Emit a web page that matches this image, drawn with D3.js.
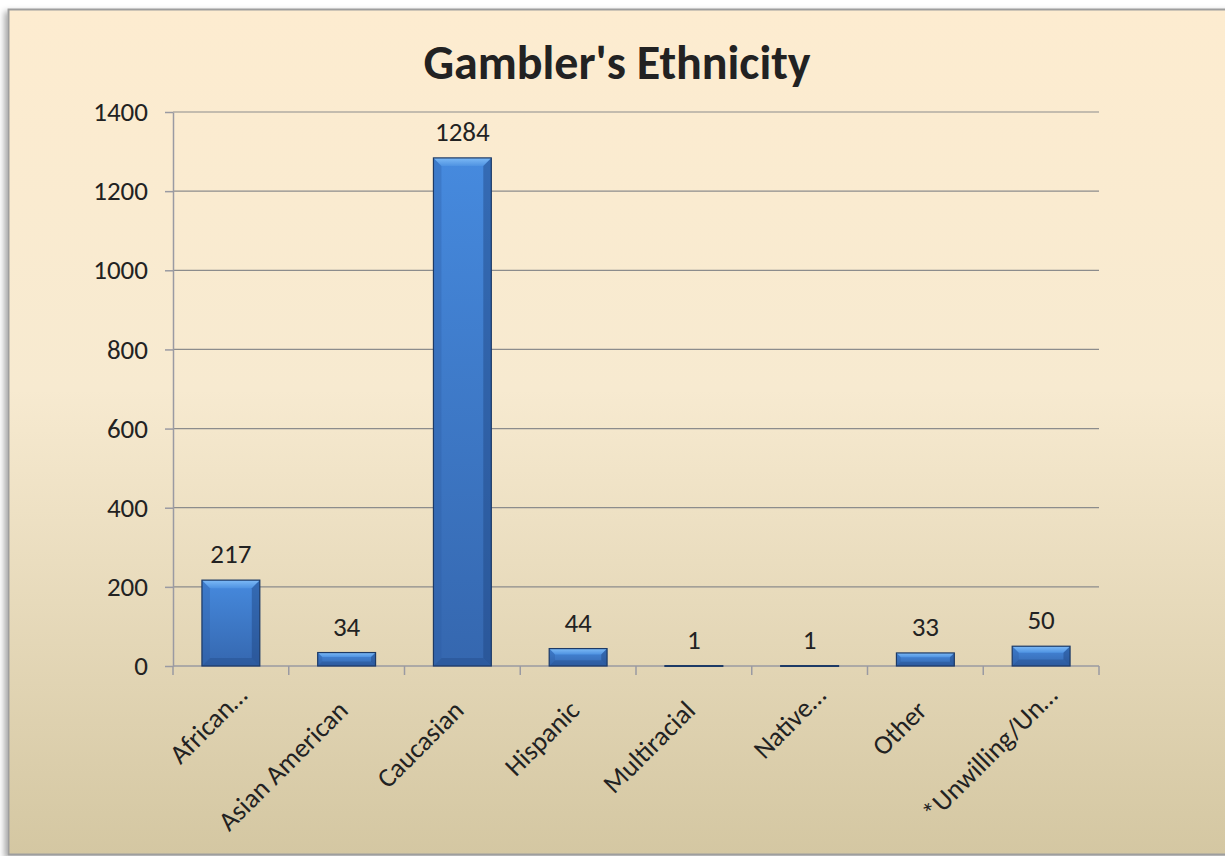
<!DOCTYPE html>
<html lang="en">
<head>
<meta charset="UTF-8">
<title>Gambler's Ethnicity</title>
<script src="https://d3js.org/d3.v7.min.js"></script>
<style>
    body { margin: 0; background: #fff; }
    text { font-family: Carlito, "Open Sans", "Noto Sans", sans-serif; fill: #222; }
</style>
</head>
<body>
<svg width="1225" height="856"></svg>
<script>
    const categories = ["African\u2026", "Asian American", "Caucasian", "Hispanic", "Multiracial", "Native\u2026", "Other", "*Unwilling/Un\u2026"];
    const counts = [217, 34, 1284, 44, 1, 1, 33, 50];
    const yTicks = [0, 200, 400, 600, 800, 1000, 1200, 1400];

    const svg = d3.select("svg");
    const defs = svg.append("defs");

    // chart area background
    const bg = defs.append("linearGradient").attr("id", "bg").attr("x1", 0).attr("y1", 0).attr("x2", 0).attr("y2", 1);
    bg.append("stop").attr("offset", "0%").attr("stop-color", "#fdecd0");
    bg.append("stop").attr("offset", "45%").attr("stop-color", "#f7ead0");
    bg.append("stop").attr("offset", "100%").attr("stop-color", "#d4c7a2");

    const barGrad = defs.append("linearGradient").attr("id", "bar").attr("x1", 0).attr("y1", 0).attr("x2", 0).attr("y2", 1);
    barGrad.append("stop").attr("offset", "0%").attr("stop-color", "#468ade");
    barGrad.append("stop").attr("offset", "100%").attr("stop-color", "#3567af");

    const topGrad = defs.append("linearGradient").attr("id", "bevelTop").attr("x1", 0).attr("y1", 0).attr("x2", 0).attr("y2", 1);
    topGrad.append("stop").attr("offset", "0%").attr("stop-color", "#7dbaf6");
    topGrad.append("stop").attr("offset", "100%").attr("stop-color", "#4f93e2");

    const shadow = defs.append("filter").attr("id", "shadow").attr("x", "-5%").attr("y", "-5%").attr("width", "110%").attr("height", "110%");
    shadow.append("feDropShadow").attr("dx", -3).attr("dy", 3).attr("stdDeviation", 3).attr("flood-opacity", 0.35);

    svg.append("rect")
        .attr("x", 8.5).attr("y", 9.5)
        .attr("width", 1225).attr("height", 845)
        .attr("fill", "url(#bg)")
        .attr("stroke", "#9e9e9e").attr("stroke-width", 2)
        .attr("filter", "url(#shadow)");

    const margin = {left: 173, right: 1099, top: 112, bottom: 666};
    const fontSize = 27;

    const x = d3.scaleBand().domain(categories).range([margin.left, margin.right]).paddingInner(0.5).paddingOuter(0.25);
    const y = d3.scaleLinear().domain([0, 1400]).range([margin.bottom, margin.top]);

    // title
    svg.append("text")
        .attr("x", 617).attr("y", 79)
        .attr("text-anchor", "middle")
        .attr("font-size", 48).attr("font-weight", "bold")
        .text("Gambler's Ethnicity");

    // gridlines
    svg.append("g").selectAll("line")
        .data(yTicks.filter(d => d > 0))
        .join("line")
        .attr("x1", margin.left).attr("x2", margin.right)
        .attr("y1", d => y(d)).attr("y2", d => y(d))
        .attr("stroke", "#8c8c8c").attr("stroke-width", 1.2);

    // y axis
    const yAxis = svg.append("g")
        .attr("transform", `translate(${margin.left},0)`)
        .call(d3.axisLeft(y).tickValues(yTicks).tickFormat(d3.format("d")).tickSize(8).tickPadding(17).tickSizeOuter(0));
    yAxis.select(".domain").attr("stroke", "#9a9aa2").attr("stroke-width", 1.5);
    yAxis.selectAll(".tick line").attr("stroke", "#9a9aa2").attr("stroke-width", 1.5);
    yAxis.selectAll("text").attr("font-size", fontSize).attr("fill", "#222")
        .style("font-family", 'Carlito, "Open Sans", "Noto Sans", sans-serif');

    // x axis
    const xAxis = svg.append("g").attr("transform", `translate(0,${margin.bottom})`);
    xAxis.append("line")
        .attr("x1", margin.left).attr("x2", margin.right)
        .attr("stroke", "#9a9aa2").attr("stroke-width", 1.5);
    xAxis.selectAll(".tk")
        .data(d3.range(categories.length + 1))
        .join("line")
        .attr("x1", i => margin.left + i * (margin.right - margin.left) / categories.length)
        .attr("x2", i => margin.left + i * (margin.right - margin.left) / categories.length)
        .attr("y1", 0).attr("y2", 9)
        .attr("stroke", "#9a9aa2").attr("stroke-width", 1.5);
    xAxis.selectAll(".lbl")
        .data(categories)
        .join("text")
        .attr("transform", d => `translate(${x(d) + x.bandwidth() / 2 + 3},${46}) rotate(-45) translate(${d.endsWith("\u2026") ? 21 : 0},0)`)
        .attr("text-anchor", "end")
        .attr("font-size", fontSize)
        .text(d => d);

    // bars
    const bars = svg.append("g").selectAll("g")
        .data(categories.map((c, i) => ({c, v: counts[i]})))
        .join("g");

    const bw = x.bandwidth();
    const tall = d => y(0) - y(d.v) > 3;
    bars.append("rect")
        .attr("x", d => x(d.c))
        .attr("y", d => y(d.v))
        .attr("width", bw)
        .attr("height", d => Math.max(0.8, y(0) - y(d.v)))
        .attr("fill", "url(#bar)");

    // bevel edges
    const bev = d => Math.min(8, (y(0) - y(d.v)) / 3);
    bars.filter(tall).append("path")
        .attr("d", d => {
            const x0 = x(d.c), x1 = x0 + bw, t = y(d.v), b = bev(d);
            return `M${x0},${t}L${x1},${t}L${x1 - b},${t + b}L${x0 + b},${t + b}Z`;
        })
        .attr("fill", "url(#bevelTop)");
    bars.filter(tall).append("path")
        .attr("d", d => {
            const x0 = x(d.c), x1 = x0 + bw, t = y(d.v), bot = y(0), b = bev(d);
            return `M${x1},${t}L${x1},${bot}L${x1 - b},${bot - b}L${x1 - b},${t + b}Z`;
        })
        .attr("fill", "#1f4580").attr("opacity", 0.45);
    bars.filter(tall).append("path")
        .attr("d", d => {
            const x0 = x(d.c), x1 = x0 + bw, bot = y(0), b = bev(d);
            return `M${x0},${bot}L${x1},${bot}L${x1 - b},${bot - b}L${x0 + b},${bot - b}Z`;
        })
        .attr("fill", "#1f4580").attr("opacity", 0.35);
    bars.filter(tall).append("path")
        .attr("d", d => {
            const x0 = x(d.c), t = y(d.v), bot = y(0), b = bev(d);
            return `M${x0},${t}L${x0},${bot}L${x0 + b},${bot - b}L${x0 + b},${t + b}Z`;
        })
        .attr("fill", "#2a5a9e").attr("opacity", 0.3);
    bars.append("rect")
        .attr("x", d => x(d.c))
        .attr("y", d => y(d.v))
        .attr("width", bw)
        .attr("height", d => Math.max(0.8, y(0) - y(d.v)))
        .attr("fill", "none")
        .attr("stroke", "#1d3a66").attr("stroke-width", 1.2);

    // value labels
    bars.append("text")
        .attr("x", d => x(d.c) + bw / 2)
        .attr("y", d => y(d.v) - 17)
        .attr("text-anchor", "middle")
        .attr("font-size", fontSize)
        .text(d => d.v);
</script>
</body>
</html>
